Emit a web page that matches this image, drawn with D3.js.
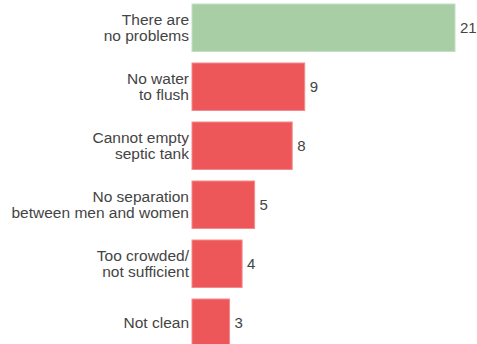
<!DOCTYPE html>
<html>
<head>
<meta charset="utf-8">
<script src="https://cdn.jsdelivr.net/npm/d3@7"></script>
<style>
  html, body { margin: 0; padding: 0; background: #fff; }
  svg { display: block; }
</style>
</head>
<body>
<svg id="chart" width="477" height="344"></svg>
<script>
const categories = [
  "There are\nno problems",
  "No water\nto flush",
  "Cannot empty\nseptic tank",
  "No separation\nbetween men and women",
  "Too crowded/\nnot sufficient",
  "Not clean"
];
const values = [21, 9, 8, 5, 4, 3];
const groups = ["positive", "problem", "problem", "problem", "problem", "problem"];

const svg = d3.select("#chart");
const font = "'Liberation Sans', Arial, sans-serif";

const x = d3.scaleLinear().domain([0, 21]).range([192, 455]);
const y = d3.scaleBand().domain(categories).range([4, 346.5]).paddingInner(0.195).paddingOuter(0);
const color = d3.scaleOrdinal().domain(["positive", "problem"]).range(["#a7cea5", "#ee5759"]);
const edge = d3.scaleOrdinal().domain(["positive", "problem"]).range(["#c4dfc2", "#f48a8c"]);

const data = categories.map((c, i) => ({ cat: c, value: values[i], group: groups[i] }));

svg.append("g").selectAll("rect").data(data).join("rect")
  .attr("x", x(0))
  .attr("y", d => y(d.cat))
  .attr("width", d => x(d.value) - x(0))
  .attr("height", y.bandwidth())
  .attr("fill", d => color(d.group))
  .attr("stroke", d => edge(d.group))
  .attr("stroke-width", 1);

// category labels
const lab = svg.append("g").selectAll("text").data(data).join("text")
  .attr("x", x(0) - 3)
  .attr("text-anchor", "end")
  .attr("font-family", font)
  .attr("font-size", 15.5)
  .attr("fill", "#444");

lab.each(function(d) {
  const lines = d.cat.split("\n");
  const cy = y(d.cat) + y.bandwidth() / 2;
  const lh = 16;
  const t = d3.select(this);
  lines.forEach((ln, i) => {
    t.append("tspan")
      .attr("x", x(0) - 3)
      .attr("y", cy - (lines.length - 1) * lh / 2 + i * lh + 5)
      .text(ln);
  });
});

// value labels
svg.append("g").selectAll("text").data(data).join("text")
  .attr("x", d => x(d.value) + 5)
  .attr("y", d => y(d.cat) + y.bandwidth() / 2 + 5)
  .attr("font-family", font)
  .attr("font-size", 15)
  .attr("fill", "#444")
  .text(d => d.value);
</script>
</body>
</html>
